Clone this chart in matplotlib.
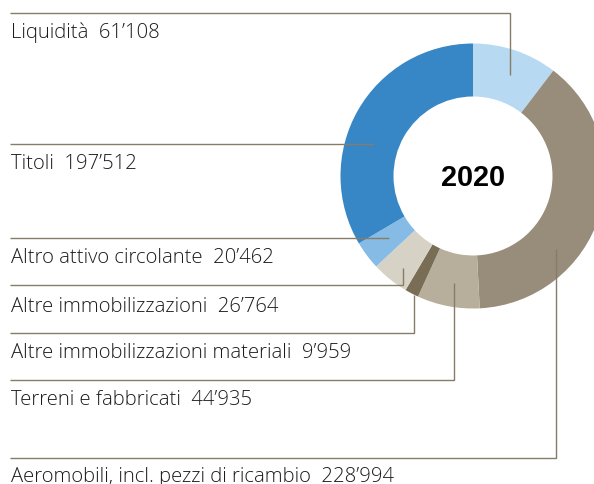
import matplotlib
matplotlib.use("Agg")
import matplotlib.pyplot as plt

# ---- data (clockwise from top) ----
categories = [
    "Liquidità",
    "Aeromobili, incl. pezzi di ricambio",
    "Terreni e fabbricati",
    "Altre immobilizzazioni materiali",
    "Altre immobilizzazioni",
    "Altro attivo circolante",
    "Titoli",
]
values = [61108, 228994, 44935, 9959, 26764, 20462, 197512]
value_labels = ["61’108", "228’994", "44’935", "9’959", "26’764", "20’462", "197’512"]
year_label = "2020"

colors = ["#b7daf2", "#988c7a", "#b7ae9b", "#7a6d55", "#d7d2c6", "#85bbe5", "#3787c7"]

# ---- layout (pixel coordinates, y from top) ----
W, H = 594, 485
cx, cy = 473, 177
r_out, r_in = 132.5, 79.5

label_baseline = [38, 482, 405, 358, 311.5, 263, 169]
line_y = [14, 458.5, 381, 334, 286, 239, 145]
line_end = [(510, 76), (556, 250), (453.5, 284), (413.5, 296), (402.5, 269), (389, 239), (374, 145)]
line_x0 = 10
text_x = 11

fig = plt.figure(figsize=(W / 100, H / 100), dpi=100)
ax = fig.add_axes([0, 0, 1, 1])

def Y(y):
    return H - y

ax.pie(values, colors=colors, startangle=90, counterclock=False,
       center=(cx, Y(cy)), radius=r_out,
       wedgeprops=dict(width=r_out - r_in, edgecolor="none", linewidth=0, antialiased=True))

line_color = "#877c68"
for i, cat in enumerate(categories):
    ly = line_y[i]
    ex, ey = line_end[i]
    xs = [line_x0, ex]
    ys = [Y(ly), Y(ly)]
    if ey != ly:
        xs.append(ex)
        ys.append(Y(ey))
    ax.plot(xs, ys, color=line_color, lw=1.0, solid_capstyle="butt", solid_joinstyle="miter")
    ax.text(text_x, Y(label_baseline[i]), f"{cat}  {value_labels[i]}",
            fontsize=14.6, family=["Open Sans", "Liberation Sans", "DejaVu Sans"], fontweight="light",
            color="#1c1c1c", ha="left", va="baseline")

ax.text(cx, Y(cy + 1), year_label, fontsize=20.8, fontweight="bold",
        family=["Liberation Sans", "DejaVu Sans"], ha="center", va="center", color="black")

ax.set_xlim(0, W)
ax.set_ylim(0, H)
ax.set_aspect("auto")
ax.axis("off")

fig.savefig("out.png", dpi=100, facecolor="white")
